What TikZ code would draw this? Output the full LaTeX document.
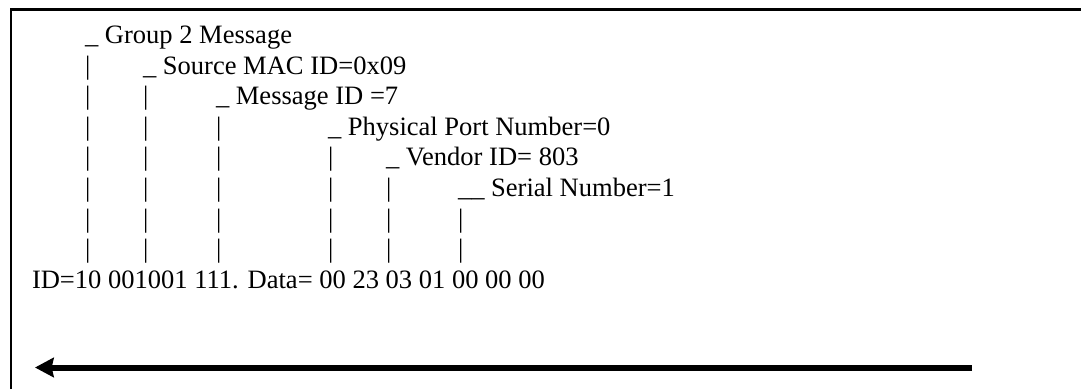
\documentclass[tikz,border=0pt]{standalone}
\usepackage{fontspec}
\setmainfont{Liberation Serif}
\usetikzlibrary{arrows.meta}
\begin{document}
\begin{tikzpicture}[x=0.75pt,y=-0.75pt,
  txt/.style={anchor=base west, inner sep=0pt, outer sep=0pt, font=\fontsize{19.9}{23}\selectfont},
  frame/.style={line width=1.6pt, line join=miter},
  bigarrow/.style={line width=4.5pt, -{Stealth[length=14pt,width=14.5pt,inset=1.5pt]}}]
\useasboundingbox (0,0) rectangle (1081,389);
% frame (cropped box)
\draw[frame] (11,389) -- (11,9.5) -- (1081,9.5);
% labels
\node[txt] (l1) at (85,43.5)  {\_ Group 2 Message};
\node[txt] (l2) at (143,74.1) {\_ Source MAC ID=0x09};
\node[txt] (l3) at (216,104.7) {\_ Message ID =7};
\node[txt] (l4) at (328,135.3) {\_ Physical Port Number=0};
\node[txt] (l5) at (386,165.9) {\_ Vendor ID= 803};
\node[txt] (l6) at (458,196.5) {\_\_ Serial Number=1};
\node[txt] (id) at (32,288.3) {ID=10 001001 111. Data= 00 23 03 01 00 00 00};
% vertical bars
\foreach \y/\n in {74.1/2,104.7/3,135.3/4,165.9/5,196.5/6,227.1/7,257.7/8}
  \node[txt] (a\n) at (85,\y) {|};
\foreach \y/\n in {104.7/3,135.3/4,165.9/5,196.5/6,227.1/7,257.7/8}
  \node[txt] (b\n) at (143,\y) {|};
\foreach \y/\n in {135.3/4,165.9/5,196.5/6,227.1/7,257.7/8}
  \node[txt] (c\n) at (216,\y) {|};
\foreach \y/\n in {165.9/5,196.5/6,227.1/7,257.7/8}
  \node[txt] (d\n) at (328,\y) {|};
\foreach \y/\n in {196.5/6,227.1/7,257.7/8}
  \node[txt] (e\n) at (386,\y) {|};
\foreach \y/\n in {227.1/7,257.7/8}
  \node[txt] (f\n) at (458,\y) {|};
% arrow
\coordinate (arrS) at (972,367.5);
\coordinate (arrE) at (35,367.5);
\draw[bigarrow] (arrS) -- (arrE);
\end{tikzpicture}
\end{document}
